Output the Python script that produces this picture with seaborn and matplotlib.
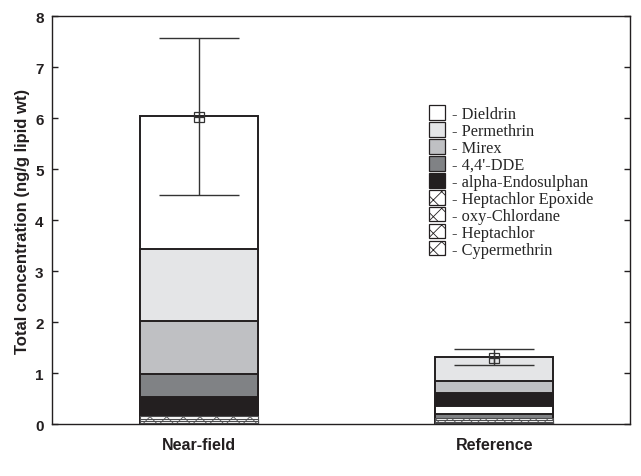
import matplotlib
matplotlib.use("Agg")
import matplotlib.pyplot as plt
import seaborn as sns
import pandas as pd
import numpy as np
from matplotlib.patches import Patch

sites = ["Near-field", "Reference"]
compounds = ["Dieldrin", "Permethrin", "Mirex", "4,4'-DDE", "alpha-Endosulphan",
             "Heptachlor Epoxide", "oxy-Chlordane", "Heptachlor", "Cypermethrin"]
near_field = [2.60, 1.41, 1.04, 0.46, 0.37, 0.06, 0.05, 0.03, 0.02]
reference = [0.15, 0.47, 0.25, 0.08, 0.25, 0.04, 0.035, 0.025, 0.02]
means = [6.02, 1.30]
err_low = [4.50, 1.15]
err_high = [7.57, 1.47]

colors = ["#ffffff", "#e4e5e7", "#bfc0c3", "#808285", "#231f20",
          "#ffffff", "#ffffff", "#ffffff", "#ffffff"]
hatches = [None, None, None, None, None, "xx", "xx", "xx", "xx"]
EDGE = "#231f20"

sns.set_style("white")
plt.rcParams["hatch.linewidth"] = 0.6

fig = plt.figure(figsize=(6.41, 4.77), dpi=100)
ax = fig.add_axes([0.081, 0.109, 0.902, 0.855])

# cumulative tops per site, stacked ascending by value
rows = []
for site, vals in zip(sites, [near_field, reference]):
    order = np.argsort(vals)  # smallest at bottom
    cum = 0.0
    for idx in order:
        cum += vals[idx]
        rows.append({"site": site, "compound": compounds[idx], "top": cum, "ci": idx})
df = pd.DataFrame(rows).sort_values("top", ascending=False)

for _, r in df.iterrows():
    hatched = hatches[r["ci"]] is not None
    sns.barplot(x=[r["site"]], y=[r["top"]], order=sites, ax=ax,
                color=colors[r["ci"]], width=0.40,
                edgecolor="#4d4d4f" if hatched else EDGE,
                linewidth=0.8 if hatched else 1.4,
                hatch=hatches[r["ci"]], saturation=1, errorbar=None)

# error bars with mean markers
xs = np.arange(len(sites))
m = np.array(means)
yerr = np.vstack([m - np.array(err_low), np.array(err_high) - m])
ax.errorbar(xs, m, yerr=yerr, fmt="none", ecolor="#333333", elinewidth=1.0,
            capsize=29, capthick=1.0, zorder=5)
ax.plot(xs, m, linestyle="none", marker="s", markersize=7, markerfacecolor="none",
        markeredgecolor="#333333", markeredgewidth=0.9, zorder=6)
ax.plot(xs, m, linestyle="none", marker="+", markersize=7, color="#333333",
        markeredgewidth=0.9, zorder=6)

ax.set_xlim(-0.5, 1.46)
ax.set_ylim(0, 8)
ax.set_yticks(range(0, 9))
ax.set_xlabel("")
ax.set_ylabel("Total concentration (ng/g lipid wt)", fontsize=12, fontweight="bold",
              family="Liberation Sans", color="#231f20", labelpad=4)
for lab in ax.get_yticklabels():
    lab.set_fontweight("bold")
    lab.set_family("Liberation Sans")
    lab.set_fontsize(11)
    lab.set_color("#231f20")
for lab in ax.get_xticklabels():
    lab.set_fontweight("bold")
    lab.set_family("Liberation Sans")
    lab.set_fontsize(11.5)
    lab.set_color("#231f20")
ax.tick_params(axis="y", which="both", direction="in", left=True, right=True,
               length=4, width=1, color="#231f20", pad=6)
ax.tick_params(axis="x", bottom=False, pad=6)
for s in ax.spines.values():
    s.set_visible(True)
    s.set_color("#231f20")
    s.set_linewidth(1.0)

handles = [Patch(facecolor=c, edgecolor=EDGE, hatch=h, linewidth=0.9)
           for c, h in zip(colors, hatches)]
labels = ["- " + c for c in compounds]
leg = ax.legend(handles, labels, loc="upper left", bbox_to_anchor=(0.640, 0.798),
                frameon=False, prop={"family": "Liberation Serif", "size": 11.8},
                handlelength=1.0, handleheight=1.0, handletextpad=0.45,
                labelspacing=0.0, borderaxespad=0)

fig.savefig("out.png", dpi=100)
